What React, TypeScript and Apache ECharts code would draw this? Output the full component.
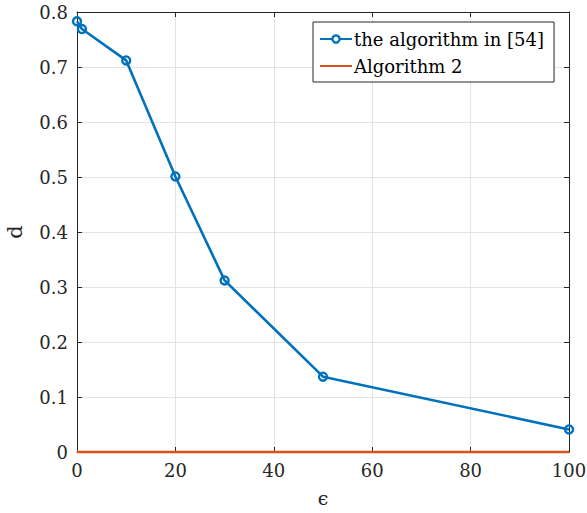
import React, { useEffect, useRef } from "react";
import * as echarts from "echarts";

const epsilon = [0, 1, 10, 20, 30, 50, 100];
const refAlgo = [0.783, 0.769, 0.712, 0.501, 0.312, 0.137, 0.041];
const algo2 = [0, 0, 0, 0, 0, 0, 0];
const seriesNames = ["the algorithm in [54]", "Algorithm 2"];

const FONT = "DejaVu Serif";
const AXIS_COLOR = "#262626";
const BLUE = "#0072BD";
const ORANGE = "#D95319";

export default function App() {
  const ref = useRef<HTMLDivElement>(null);
  useEffect(() => {
    if (!ref.current) return;
    const chart = echarts.init(ref.current, undefined, { renderer: "svg" });
    const tickCommon = {
      axisTick: { show: true, inside: true, length: 5, lineStyle: { color: AXIS_COLOR, width: 1 } },
      axisLine: { show: true, onZero: false, lineStyle: { color: AXIS_COLOR, width: 1 } },
    };
    const txt = (size: number, color: string) => ({ fontFamily: FONT, fontSize: size, color, fontStyle: "normal", fontWeight: "normal" });
    chart.setOption({
      animation: false,
      backgroundColor: "#ffffff",
      textStyle: { fontFamily: FONT },
      grid: { left: 77, top: 12, width: 492, height: 440, containLabel: false, outerBoundsMode: "none" },
      legend: {
        left: 313,
        top: 22,
        orient: "vertical",
        data: [
          { name: seriesNames[0], itemStyle: { color: "#ffffff", borderColor: BLUE, borderWidth: 2.4 } },
          { name: seriesNames[1], itemStyle: { opacity: 0 } },
        ],
        backgroundColor: "#ffffff",
        borderColor: AXIS_COLOR,
        borderWidth: 1,
        borderRadius: 0,
        padding: [8, 10, 7, 6],
        itemGap: 9,
        itemWidth: 32,
        itemHeight: 9,
        textStyle: { ...txt(18, "#000000"), padding: [2, 0, 0, -3] },
      },
      xAxis: [
        {
          type: "value",
          min: 0,
          max: 100,
          interval: 20,
          name: "ϵ",
          nameLocation: "middle",
          nameGap: 36,
          nameTextStyle: txt(19, AXIS_COLOR),
          axisLabel: { ...txt(18, AXIS_COLOR), margin: 9 },
          splitLine: { show: true, lineStyle: { color: "#e3e3e3", width: 1 } },
          ...tickCommon,
        },
        {
          type: "value",
          position: "top",
          min: 0,
          max: 100,
          interval: 20,
          axisLabel: { show: false },
          splitLine: { show: false },
          ...tickCommon,
        },
      ],
      yAxis: [
        {
          type: "value",
          min: 0,
          max: 0.8,
          interval: 0.1,
          name: "d",
          nameLocation: "middle",
          nameGap: 52,
          nameTextStyle: txt(21, AXIS_COLOR),
          axisLabel: { ...txt(18, AXIS_COLOR), margin: 9 },
          splitLine: { show: true, lineStyle: { color: "#e3e3e3", width: 1 } },
          ...tickCommon,
        },
        {
          type: "value",
          position: "right",
          min: 0,
          max: 0.8,
          interval: 0.1,
          axisLabel: { show: false },
          splitLine: { show: false },
          ...tickCommon,
        },
      ],
      series: [
        {
          name: seriesNames[0],
          type: "line",
          data: epsilon.map((x, i) => [x, refAlgo[i]]),
          symbol: "circle",
          symbolSize: 8,
          lineStyle: { color: BLUE, width: 2.6 },
          itemStyle: { color: "rgba(0,0,0,0)", borderColor: BLUE, borderWidth: 2.4 },
          clip: false,
          z: 3,
        },
        {
          name: seriesNames[1],
          type: "line",
          data: epsilon.map((x, i) => [x, algo2[i]]),
          symbol: "none",
          lineStyle: { color: ORANGE, width: 2.6 },
          itemStyle: { color: ORANGE },
          clip: false,
          z: 4,
        },
      ],
    });
    return () => chart.dispose();
  }, []);
  return <div ref={ref} style={{ width: 587, height: 513, position: "absolute", left: 0, top: 0 }} />;
}
